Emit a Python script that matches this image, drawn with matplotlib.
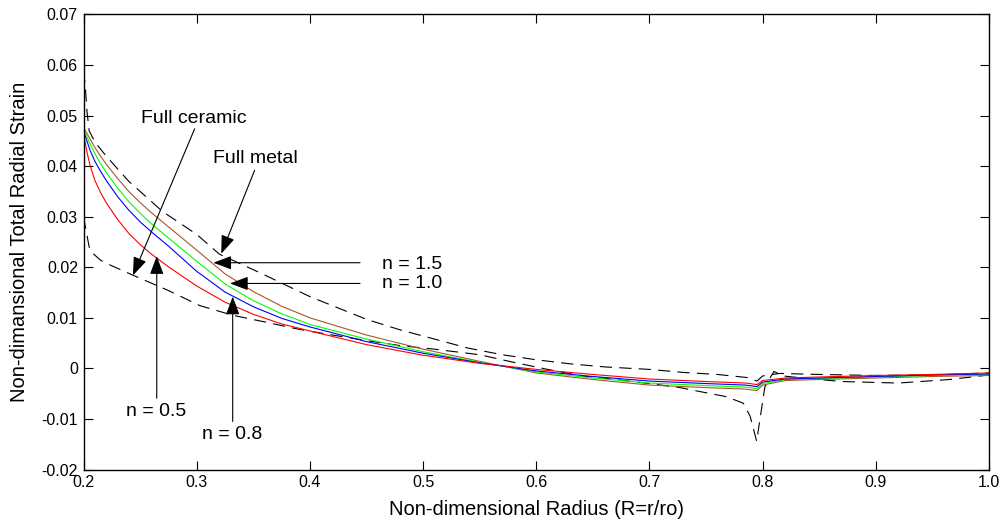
import numpy as np
import matplotlib
matplotlib.use('Agg')
import matplotlib.pyplot as plt

plt.rcParams['font.family'] = ['Liberation Sans', 'DejaVu Sans']

# FGM curves (n = 0.5, 0.8, 1.0, 1.5) share one radius grid
r_fgm = [0.200, 0.203, 0.206, 0.210, 0.215, 0.220, 0.230, 0.240, 0.250, 0.260, 0.275,
         0.300, 0.325, 0.350, 0.375, 0.400, 0.450, 0.500, 0.550, 0.600, 0.650, 0.700,
         0.750, 0.785, 0.795, 0.800, 0.820, 0.850, 0.900, 0.950, 1.000]
eps_n05 = [0.0465, 0.0428, 0.0400, 0.0372, 0.0348, 0.0328, 0.0295, 0.0267, 0.0245, 0.0226, 0.0201,
           0.0163, 0.0131, 0.0107, 0.0088, 0.0074, 0.0047, 0.0026, 0.0010, -0.0002, -0.0012, -0.0021,
           -0.0026, -0.0029, -0.0032, -0.0024, -0.0019, -0.0017, -0.0014, -0.0012, -0.0009]
eps_n08 = [0.0470, 0.0450, 0.0430, 0.0410, 0.0390, 0.0372, 0.0340, 0.0313, 0.0290, 0.0270, 0.0242,
           0.0192, 0.0151, 0.0122, 0.0099, 0.0082, 0.0053, 0.0030, 0.0011, -0.0005, -0.0016, -0.0025,
           -0.0030, -0.0033, -0.0036, -0.0027, -0.0021, -0.0019, -0.0016, -0.0013, -0.0011]
eps_n10 = [0.0473, 0.0458, 0.0443, 0.0425, 0.0405, 0.0388, 0.0357, 0.0330, 0.0307, 0.0286, 0.0258,
           0.0212, 0.0167, 0.0134, 0.0108, 0.0087, 0.0058, 0.0033, 0.0012, -0.0007, -0.0019, -0.0029,
           -0.0034, -0.0037, -0.0040, -0.0030, -0.0022, -0.0020, -0.0017, -0.0014, -0.0012]
eps_n15 = [0.0476, 0.0465, 0.0453, 0.0437, 0.0420, 0.0404, 0.0376, 0.0350, 0.0328, 0.0308, 0.0280,
           0.0234, 0.0187, 0.0152, 0.0123, 0.0100, 0.0066, 0.0038, 0.0014, -0.0009, -0.0022, -0.0033,
           -0.0038, -0.0041, -0.0044, -0.0033, -0.0024, -0.0022, -0.0019, -0.0016, -0.0014]

# homogeneous discs (dashed)
r_metal = [0.200, 0.2015, 0.203, 0.205, 0.210, 0.220, 0.240, 0.270, 0.300, 0.320, 0.357, 0.400,
           0.450, 0.480, 0.510, 0.540, 0.570, 0.600, 0.630, 0.660, 0.700, 0.730, 0.760, 0.786,
           0.795, 0.800, 0.815, 0.850, 0.900, 0.950, 1.000]
eps_metal = [0.0590, 0.0560, 0.0510, 0.0470, 0.0448, 0.0420, 0.0370, 0.0310, 0.0265, 0.0226, 0.0188, 0.0142,
             0.0097, 0.0076, 0.0058, 0.0040, 0.0027, 0.0017, 0.0009, 0.0003, -0.0002, -0.0008, -0.0012, -0.0018,
             -0.0025, -0.0015, -0.0010, -0.0012, -0.0014, -0.0013, -0.0009]
r_ceram = [0.200, 0.2025, 0.205, 0.207, 0.215, 0.223, 0.244, 0.274, 0.303, 0.332, 0.362, 0.391,
           0.420, 0.450, 0.480, 0.510, 0.550, 0.580, 0.610, 0.640, 0.670, 0.700, 0.727, 0.745,
           0.768, 0.783, 0.789, 0.7947, 0.802, 0.810, 0.818, 0.840, 0.870, 0.920, 0.965, 1.000]
eps_ceram = [0.0300, 0.0270, 0.0240, 0.0230, 0.0214, 0.0205, 0.0184, 0.0155, 0.0124, 0.0105, 0.0091, 0.0077,
             0.0066, 0.0055, 0.0045, 0.0038, 0.0027, 0.0012, -0.0002, -0.0015, -0.0022, -0.0030, -0.0038, -0.0046,
             -0.0056, -0.0069, -0.0095, -0.0144, -0.0036, -0.0006, -0.0015, -0.0020, -0.0026, -0.0029, -0.0022, -0.0013]

x_ticks = [0.2, 0.3, 0.4, 0.5, 0.6, 0.7, 0.8, 0.9, 1.0]
x_ticklabels = ['0.2', '0.3', '0.4', '0.5', '0.6', '0.7', '0.8', '0.9', '1.0']
y_ticks = [-0.02, -0.01, 0, 0.01, 0.02, 0.03, 0.04, 0.05, 0.06, 0.07]
y_ticklabels = ['-0.02', '-0.01', '0', '0.01', '0.02', '0.03', '0.04', '0.05', '0.06', '0.07']

fig = plt.figure(figsize=(10.05, 5.27), dpi=100)
ax = fig.add_axes([0.0831, 0.1091, 0.9010, 0.8634])

dash = (0, (11, 6.5))
ax.plot(r_metal, eps_metal, color='k', lw=0.8, linestyle=dash)
ax.plot(r_ceram, eps_ceram, color='k', lw=0.8, linestyle=dash)
ax.plot(r_fgm, eps_n15, color='#a5582a', lw=0.8)
ax.plot(r_fgm, eps_n10, color='#00ff00', lw=0.8)
ax.plot(r_fgm, eps_n08, color='#0000ff', lw=0.8)
ax.plot(r_fgm, eps_n05, color='#ff0000', lw=0.8)

ax.set_xlim(0.2, 1.0)
ax.set_ylim(-0.02, 0.07)
ax.set_xticks(x_ticks)
ax.set_xticklabels(x_ticklabels)
ax.set_yticks(y_ticks)
ax.set_yticklabels(y_ticklabels)
ax.tick_params(direction='in', length=6.5, width=0.8, top=True, right=True, labelsize=11.5, pad=4)
for s in ax.spines.values():
    s.set_linewidth(1.0)

ax.set_xlabel('Non-dimensional Radius (R=r/ro)', fontsize=14.5, labelpad=7)
ax.set_ylabel('Non-dimansional Total Radial Strain', fontsize=14.5, labelpad=9)

# arrows with labels
arr = dict(arrowstyle='-|>,head_length=0.8,head_width=0.3', color='k', lw=0.8,
           shrinkA=0, shrinkB=0, mutation_scale=14)
ax.annotate('', xy=(0.2437, 0.0184), xytext=(0.2982, 0.0474), arrowprops=arr)
ax.text(0.2976, 0.0495, 'Full ceramic', fontsize=14, ha='center', va='center')
ax.annotate('', xy=(0.3217, 0.0227), xytext=(0.3512, 0.0392), arrowprops=arr)
ax.text(0.352, 0.0416, 'Full metal', fontsize=14, ha='center', va='center')
ax.annotate('', xy=(0.3147, 0.0209), xytext=(0.4443, 0.0209), arrowprops=arr)
ax.text(0.4634, 0.0206, 'n = 1.5', fontsize=14, ha='left', va='center')
ax.annotate('', xy=(0.3294, 0.0168), xytext=(0.4443, 0.0168), arrowprops=arr)
ax.text(0.4634, 0.0167, 'n = 1.0', fontsize=14, ha='left', va='center')
ax.annotate('', xy=(0.2647, 0.0222), xytext=(0.2647, -0.0059), arrowprops=arr)
ax.text(0.2639, -0.0085, 'n = 0.5', fontsize=14, ha='center', va='center')
ax.annotate('', xy=(0.3318, 0.0142), xytext=(0.3318, -0.0105), arrowprops=arr)
ax.text(0.3309, -0.0131, 'n = 0.8', fontsize=14, ha='center', va='center')

fig.savefig('out.png', dpi=100)
